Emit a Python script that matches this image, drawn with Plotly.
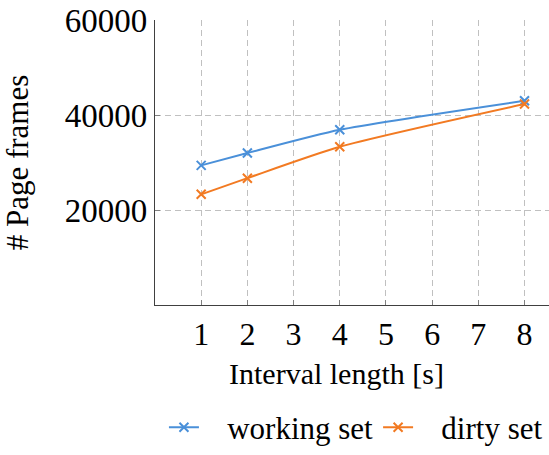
import plotly.graph_objects as go

interval = [1, 2, 4, 8]
working_set = [29400, 32000, 36900, 43000]
dirty_set = [23300, 26700, 33300, 42300]
x_ticks = [1, 2, 3, 4, 5, 6, 7, 8]
y_ticks = [20000, 40000, 60000]
y_tick_labels = ["20000", "40000", "60000"]
series_names = ["\u00a0\u00a0\u00a0working set", "\u00a0\u00a0\u00a0dirty set"]

FONT = "Liberation Serif"
BLUE = "#4a90d9"
ORANGE = "#f27a22"

fig = go.Figure()
for name, vals, col in [(series_names[0], working_set, BLUE), (series_names[1], dirty_set, ORANGE)]:
    fig.add_trace(go.Scatter(
        x=interval, y=vals, name=name, mode="lines+markers",
        line=dict(color=col, width=2, shape="spline", smoothing=0.6),
        marker=dict(symbol="x-thin", size=9, line=dict(color=col, width=2), color=col),
    ))

fig.update_layout(
    width=549, height=455,
    margin=dict(l=155, r=0, t=20, b=140),
    paper_bgcolor="white", plot_bgcolor="white",
    font=dict(family=FONT, size=31, color="black"),
    showlegend=True,
    legend=dict(orientation="h", x=0.51, xanchor="center", y=-0.43, yanchor="middle",
                font=dict(family=FONT, size=31), itemwidth=30, tracegroupgap=0),
    xaxis=dict(range=[0, 8.53], tickvals=x_ticks, ticks="inside", ticklen=5,
               tickcolor="#808080", showline=True, linecolor="#404040", linewidth=1.2,
               showgrid=True, gridcolor="#c0c0c0", griddash="6px,4px", gridwidth=1,
               zeroline=False, automargin=False, tickfont=dict(family=FONT, size=32)),
    yaxis=dict(range=[0, 60000], tickvals=y_ticks, ticktext=y_tick_labels, ticks="inside", ticklen=5,
               tickcolor="#808080", showline=True, linecolor="#404040", linewidth=1.2,
               showgrid=True, gridcolor="#c0c0c0", griddash="6px,4px", gridwidth=1,
               zeroline=False, automargin=False, tickfont=dict(family=FONT, size=33),
               title=dict(text="# Page frames", font=dict(family=FONT, size=31), standoff=26)),
    annotations=[dict(text="Interval length [s]", xref="paper", yref="paper",
                      x=0.46, y=-0.24, xanchor="center", yanchor="middle",
                      showarrow=False, font=dict(family=FONT, size=30))],
)

fig.write_html("out.html", config={"displayModeBar": False},
               post_script="document.body.style.margin='0';")
